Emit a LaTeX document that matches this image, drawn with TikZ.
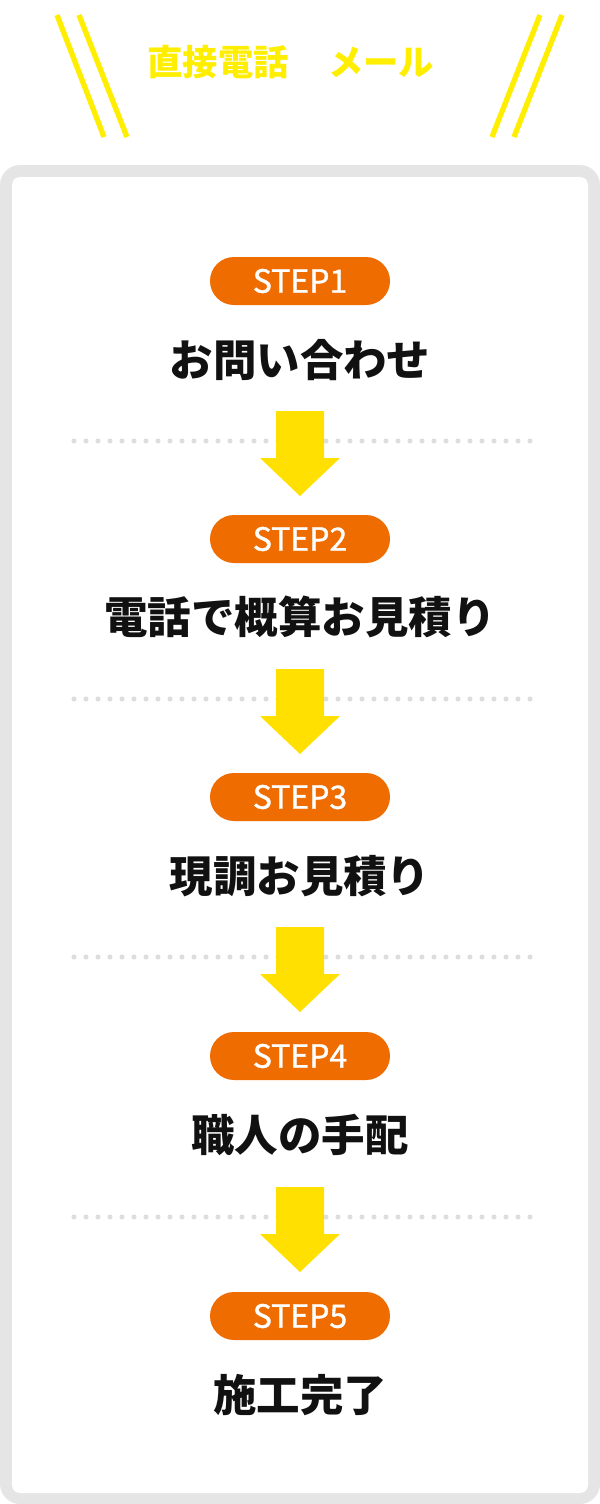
\documentclass[tikz,border=0pt]{standalone}
\usepackage{fontspec}
\setmainfont{Noto Sans CJK JP}
\usepackage{xcolor}
\usetikzlibrary{positioning}
\definecolor{stepOrange}{HTML}{EE6C00}
\definecolor{stepYellow}{HTML}{FFE000}
\definecolor{headYellow}{HTML}{FFEE00}
\definecolor{frameGray}{HTML}{E5E5E5}
\definecolor{dotGray}{HTML}{DDDDDD}
\definecolor{titleInk}{HTML}{111111}

\begin{document}
\begin{tikzpicture}[x=0.75pt,y=-0.75pt,
    pill/.style={fill=stepOrange,rounded corners=18pt,
                 minimum width=135pt,minimum height=36pt,
                 text=white,font=\addfontfeature{FakeBold=1.2}\fontsize{24}{26}\selectfont},
    title/.style={text=titleInk,font=\bfseries\fontsize{32.6}{34}\selectfont},
    head/.style={text=headYellow,font=\bfseries\fontsize{26.5}{28}\selectfont},
    slash/.style={draw=headYellow,line width=4pt},
    dots/.style={draw=dotGray,line width=3.8pt,line cap=round,
                 dash pattern=on 0pt off 9pt},
    downarrow/.style={fill=stepYellow}]
    \useasboundingbox (0,0) rectangle (600,1504);
    % header
    \draw[slash] (57,15) -- (104,137);
    \draw[slash] (79,15) -- (127,137);
    \draw[slash] (540,15) -- (492,137);
    \draw[slash] (562,15) -- (514,137);
    \node[head] (tel) at (218,62) {直接電話};
    \node[head] (mail) at (381,62) {メール};
    % frame
    \fill[frameGray,rounded corners=15pt] (0,165) rectangle (600,1504);
    \fill[white,rounded corners=6pt] (12,177) rectangle (588,1493);
    % separators and arrows
    \foreach \y in {0,258,516,776}{
      \draw[dots] (74,441+\y) -- (538,441+\y);
      \fill[downarrow] (276,411+\y) -- (324,411+\y) -- (324,458+\y)
        -- (340,458+\y) -- (300,496+\y) -- (260,458+\y)
        -- (276,458+\y) -- cycle;
    }
    % steps
    \node[pill] (s1) at (300,281) {STEP1};
    \node[title] (t1) at (300,360) {お問い合わせ};
    \node[pill] (s2) at (300,539) {STEP2};
    \node[title] (t2) at (300,617) {電話で概算お見積り};
    \node[pill] (s3) at (300,797) {STEP3};
    \node[title] (t3) at (300,876) {現調お見積り};
    \node[pill] (s4) at (300,1056) {STEP4};
    \node[title] (t4) at (300,1135) {職人の手配};
    \node[pill] (s5) at (300,1316) {STEP5};
    \node[title] (t5) at (300,1395) {施工完了};
\end{tikzpicture}
\end{document}
